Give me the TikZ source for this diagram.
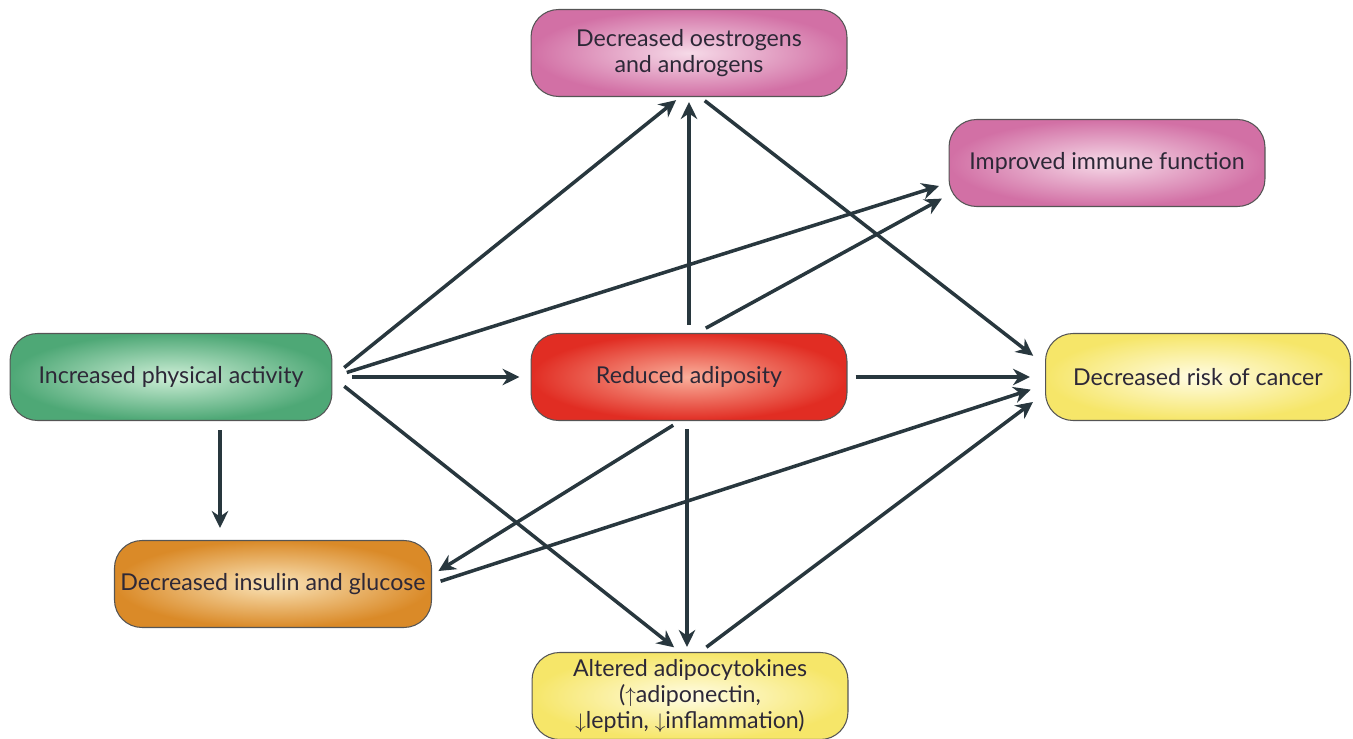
\documentclass[tikz,border=0pt]{standalone}
\usepackage{fontspec}
\setmainfont{Lato}
\usetikzlibrary{arrows.meta}

\definecolor{arrowc}{RGB}{40,55,62}
\definecolor{textc}{RGB}{45,40,55}
\definecolor{edgec}{RGB}{85,85,85}
\definecolor{greenout}{RGB}{78,168,118}
\definecolor{greenin}{RGB}{205,238,214}
\definecolor{pinkout}{RGB}{210,112,165}
\definecolor{pinkin}{RGB}{246,218,232}
\definecolor{redout}{RGB}{225,45,35}
\definecolor{redin}{RGB}{250,175,155}
\definecolor{yellowout}{RGB}{246,230,105}
\definecolor{yellowin}{RGB}{255,252,228}
\definecolor{orangeout}{RGB}{218,138,40}
\definecolor{orangein}{RGB}{250,228,185}

\begin{document}
\begin{tikzpicture}[x=0.02cm,y=-0.02cm,
    box/.style={draw=edgec,line width=0.6pt,rounded corners=0.55cm,minimum width=6.32cm,
        minimum height=1.74cm,align=center,text=textc,font=\fontsize{13.2}{15}\selectfont},
    arr/.style={draw=arrowc,line width=2pt,-{Stealth[length=3.4mm,width=3.3mm]}}]
    \useasboundingbox (0,0) rectangle (1353,739);

    \node[box,inner color=greenin,outer color=greenout,minimum width=6.44cm](pa) at (171,377){Increased physical activity};
    \node[box,inner color=pinkin,outer color=pinkout](oe) at (689,53){Decreased oestrogens\\and androgens};
    \node[box,inner color=pinkin,outer color=pinkout](im) at (1107,163){Improved immune function};
    \node[box,inner color=redin,outer color=redout](ad) at (689,377){Reduced adiposity};
    \node[box,inner color=yellowin,outer color=yellowout,minimum width=6.1cm](ca) at (1198,377){Decreased risk of cancer};
    \node[box,inner color=orangein,outer color=orangeout](in) at (273,584){Decreased insulin and glucose};
    \node[box,inner color=yellowin,outer color=yellowout](ac) at (690,696){Altered adipocytokines\\(${\uparrow}$adiponectin,\\${\downarrow}$leptin, ${\downarrow}$inflammation)};

    % from physical activity
    \draw[arr,shorten <=0.3cm,shorten >=0.1cm](pa.east)--([xshift=-0.18cm]oe.south);
    \draw[arr,shorten <=0.3cm,shorten >=0.2cm](pa.east)--([yshift=-0.4cm]im.west);
    \draw[arr,shorten <=0.4cm,shorten >=0.22cm](pa.east)--(ad.west);
    \draw[arr,shorten <=0.3cm,shorten >=0.15cm](pa.east)--([xshift=-0.2cm]ac.north);
    \draw[arr,shorten <=0.18cm,shorten >=0.24cm]([xshift=0.98cm]pa.south)--([xshift=0.98cm]pa.south |- in.north);

    % from adiposity
    \draw[arr,shorten <=0.16cm,shorten >=0.1cm](ad.north)--(oe.south);
    \draw[arr,shorten <=0.2cm,shorten >=0.15cm]([xshift=0.16cm]ad.north)--([yshift=-0.64cm]im.west);
    \draw[arr,shorten <=0.16cm,shorten >=0.3cm](ad.east)--(ca.west);
    \draw[arr,shorten <=0.16cm,shorten >=0.15cm]([xshift=-0.18cm]ad.south)--([yshift=0.18cm]in.east);
    \draw[arr,shorten <=0.16cm,shorten >=0.1cm]([xshift=-0.04cm]ad.south)--([xshift=-0.04cm]ad.south |- ac.north);

    % towards cancer
    \draw[arr,shorten <=0.12cm,shorten >=0.3cm]([xshift=0.22cm]oe.south)--([yshift=0.24cm]ca.west);
    \draw[arr,shorten <=0.18cm,shorten >=0.3cm](in.east)--([yshift=-0.16cm]ca.west);
    \draw[arr,shorten <=0.16cm,shorten >=0.3cm]([xshift=0.2cm]ac.north)--([yshift=-0.32cm]ca.west);
\end{tikzpicture}
\end{document}
